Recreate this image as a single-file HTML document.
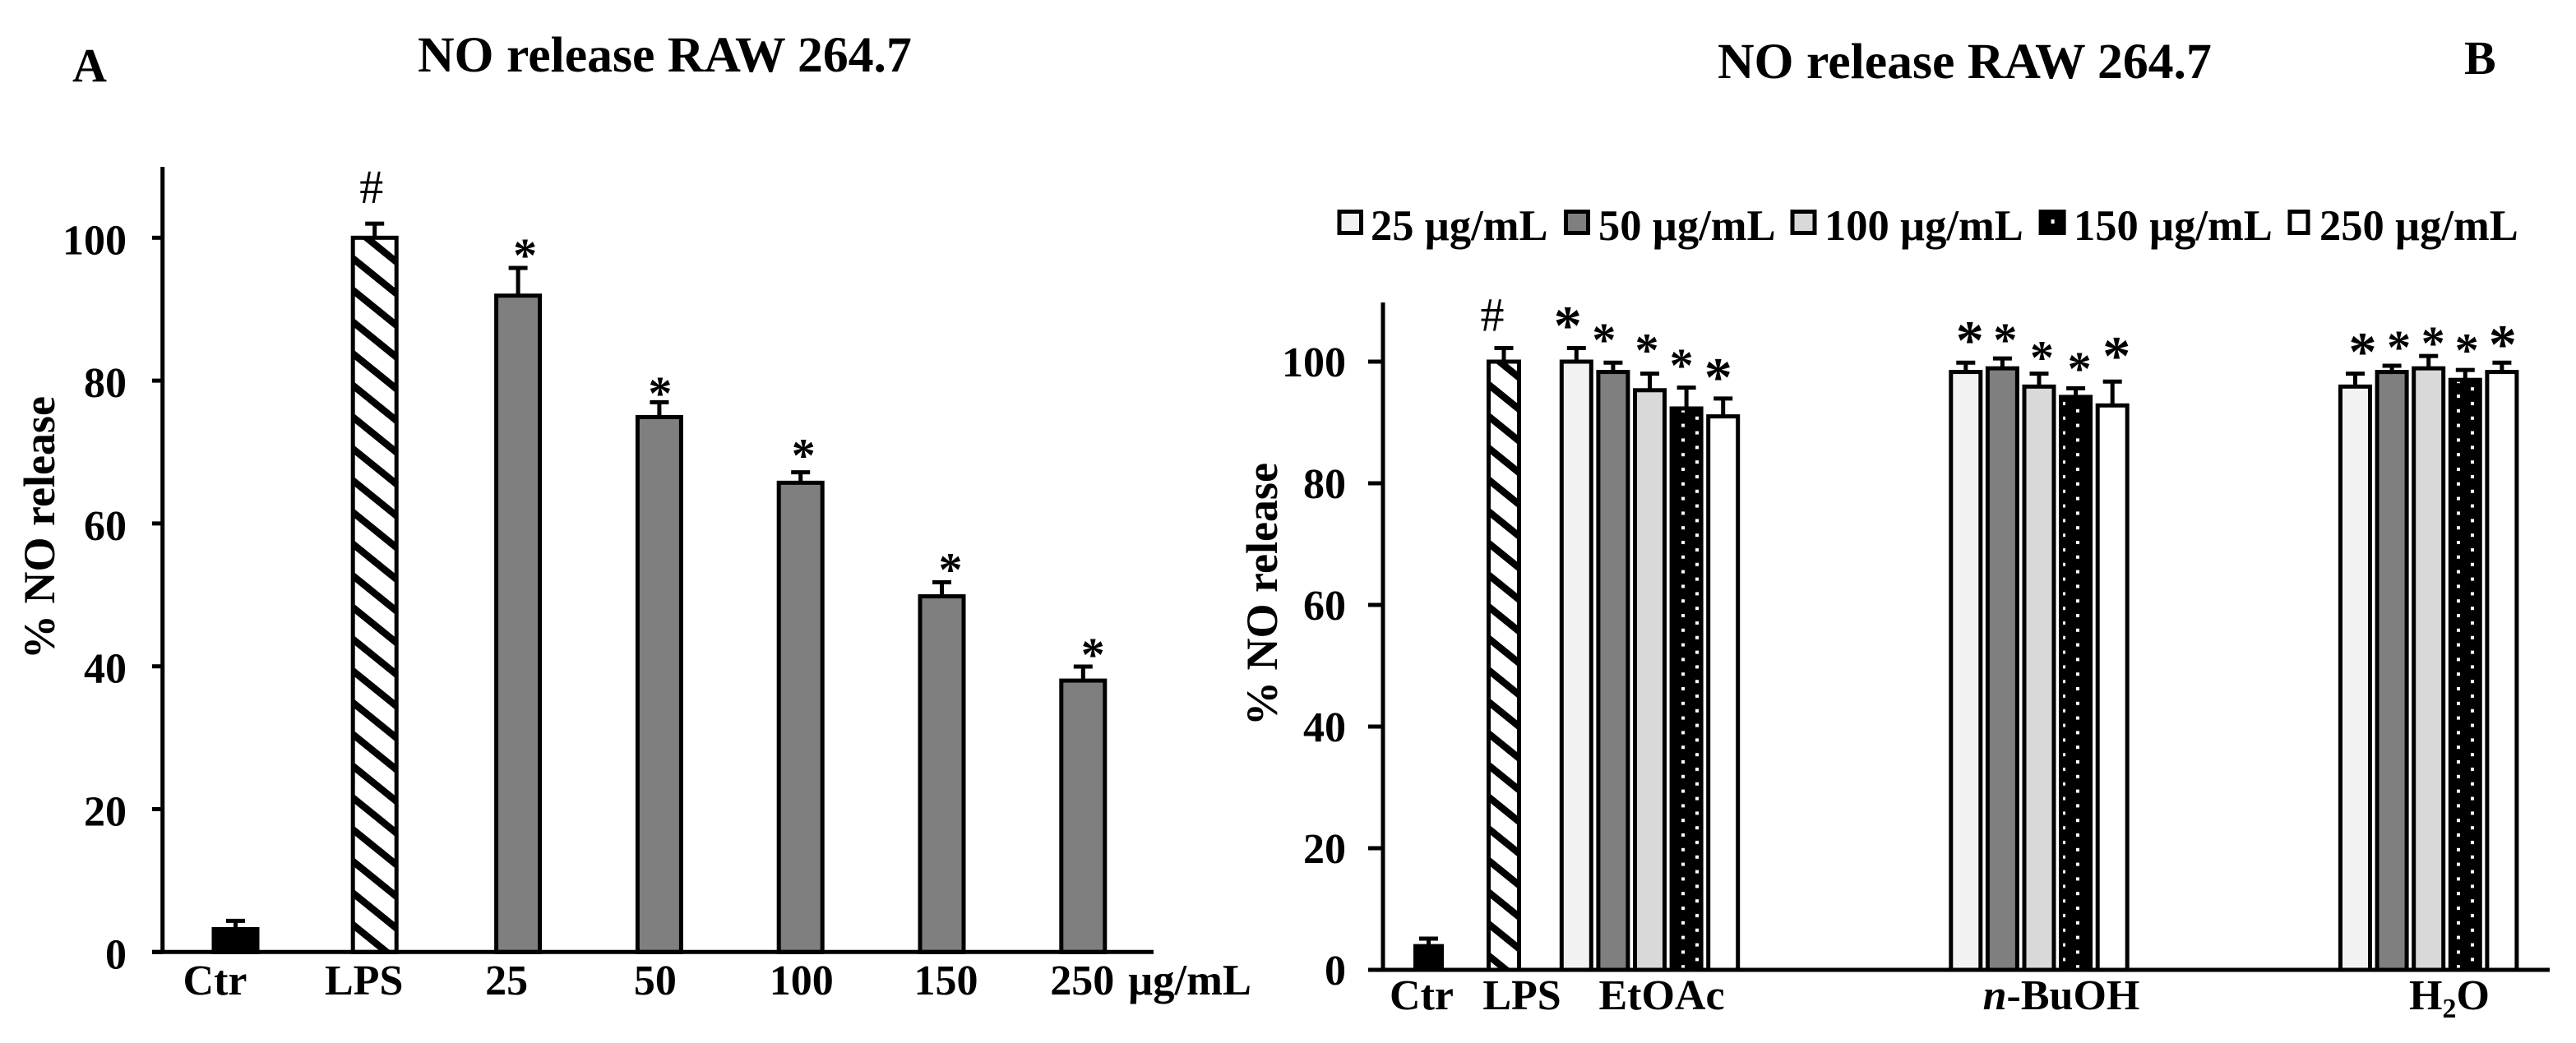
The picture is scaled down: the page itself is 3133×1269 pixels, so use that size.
<!DOCTYPE html>
<html lang="en">
<head>
<meta charset="utf-8">
<title>NO release RAW 264.7</title>
<style>
html,body{margin:0;padding:0;background:#fff;}
svg{display:block;}
text{font-family:"Liberation Serif","Times New Roman",serif;font-weight:bold;fill:#000;}
</style>
</head>
<body>
<svg id="figure" xmlns="http://www.w3.org/2000/svg" width="3133" height="1269" viewBox="0 0 3133 1269">
  <defs>
    <pattern id="hatch" patternUnits="userSpaceOnUse" width="30" height="30" patternTransform="rotate(39)">
      <rect width="30" height="30" fill="#fff"/>
      <rect width="30" height="8.5" fill="#000"/>
    </pattern>
    <pattern id="dots-0" patternUnits="userSpaceOnUse" x="2045" y="1103" width="34" height="17.8">
      <rect width="34" height="17.8" fill="#000"/>
      <rect x="0" y="0" width="4" height="4" fill="#fff"/>
      <rect x="17" y="9" width="4" height="4" fill="#fff"/>
    </pattern>
    <pattern id="dots-1" patternUnits="userSpaceOnUse" x="2525" y="1103" width="34" height="17.8">
      <rect width="34" height="17.8" fill="#000"/>
      <rect x="0" y="0" width="4" height="4" fill="#fff"/>
      <rect x="17" y="9" width="4" height="4" fill="#fff"/>
    </pattern>
    <pattern id="dots-2" patternUnits="userSpaceOnUse" x="2988" y="1103" width="34" height="17.8">
      <rect width="34" height="17.8" fill="#000"/>
      <rect x="0" y="0" width="4" height="4" fill="#fff"/>
      <rect x="17" y="9" width="4" height="4" fill="#fff"/>
    </pattern>
  </defs>

  <text x="88" y="99" font-size="58">A</text>
  <text x="508" y="87" font-size="61.7">NO release RAW 264.7</text>
  <text transform="translate(66,802) rotate(-90)" font-size="54">% NO release</text>
  <text x="1372" y="1210" font-size="52.5">µg/mL</text>

  <text x="2997" y="90" font-size="58">B</text>
  <text x="2089" y="95" font-size="61.7">NO release RAW 264.7</text>
  <text transform="translate(1553,883) rotate(-90)" font-size="54">% NO release</text>

  <g id="plot-a"></g>
  <g id="plot-b"></g>
  <g id="legend-b"></g>
</svg>

<script>
// ---------- Panel A data ----------
const catsA = ['Ctr', 'LPS', '25', '50', '100', '150', '250'];
const valuesA = [3.2, 100, 91.9, 74.9, 65.7, 49.8, 38];
const errTopA = [4.6, 102.2, 96, 77.2, 67.4, 52, 40.2];
const starLevelA = [null, null, 98.5, 79.2, 70.5, 54.5, 42.6];
const ticksA = [0, 20, 40, 60, 80, 100];

// ---------- Panel B data ----------
const controlsB = ['Ctr', 'LPS'];
const controlValuesB = [3.9, 100];
const controlErrTopB = [5.4, 102.5];
const groupsB = ['EtOAc', 'n-BuOH', 'H2O'];
const seriesB = ['25 µg/mL', '50 µg/mL', '100 µg/mL', '150 µg/mL', '250 µg/mL'];
const etoacValues = [100, 98.3, 95.3, 92.3, 91];
const etoacErrTop = [102.5, 100.1, 98.3, 96, 94.2];
const etoacStars = [107.3, 104.7, 103, 100.5, 98.8];
const butanolValues = [98.3, 98.9, 95.9, 94.2, 92.8];
const butanolErrTop = [100.1, 100.8, 98.3, 95.9, 97];
const butanolStars = [104.9, 104.7, 101.8, 100, 102.3];
const waterValues = [95.9, 98.3, 98.9, 97, 98.3];
const waterErrTop = [98.3, 99.6, 101.2, 98.9, 100.1];
const waterStars = [103, 103.5, 104.2, 103, 104.2];
const ticksB = [0, 20, 40, 60, 80, 100];

// ---------- Scales ----------
function yA(v) { return 1158.3 - v * 8.69; }
function yB(v) { return 1180 - v * 7.4; }
function xA(i) { return 286.5 + 171.8 * i + (i === 1 ? -2.6 : 0); }
function labelXA(i) { return xA(i) + [-25, -13, -14, -5, 1, 5, -1][i]; }
function starDxA(i) { return [0, 0, 8.5, 1, 3.5, 10.5, 12][i]; }
function xControlB(i) { return 1737.5 + 91.5 * i; }
function labelControlXB(i) { return [1729, 1851][i]; }
function groupCenterB(g) { return [2006.5, 2480, 2953.7][g]; }
function xGroupB(g, s) { return groupCenterB(g) + (s - 2) * 44.6; }
function starDxB(g, s) {
  return [[-10.5, -11, -3.5, -6, -6], [5, 3.5, 3.5, 4.5, 5], [9, 8.5, 5.5, 2, 1]][g][s];
}

// ---------- Helpers ----------
const NS = 'http://www.w3.org/2000/svg';
function make(parent, tag, attrs, txt) {
  const e = document.createElementNS(NS, tag);
  for (const k in attrs) e.setAttribute(k, attrs[k]);
  if (txt !== undefined) e.textContent = txt;
  parent.appendChild(e);
  return e;
}
function fillForB(s, g) {
  return ['#f2f2f2', '#7f7f7f', '#d9d9d9', 'url(#dots-' + g + ')', '#ffffff'][s];
}

function drawBar(parent, cx, outerW, top, base, fill, errY, capW, name) {
  const sw = 5;
  const bar = make(parent, 'rect', {
    x: cx - outerW / 2 + sw / 2, y: top, width: outerW - sw, height: base - top,
    fill: fill, stroke: '#000', 'stroke-width': sw
  });
  
  
  const stem = make(parent, 'line', {
    x1: cx, x2: cx, y1: top, y2: errY, stroke: '#000', 'stroke-width': 5
  });
  
  
  const cap = make(parent, 'line', {
    x1: cx - capW / 2, x2: cx + capW / 2, y1: errY + 2, y2: errY + 2, stroke: '#000', 'stroke-width': 5
  });
  
  
}

function drawStar(parent, cx, cy, size, name) {
  const st = make(parent, 'text', {
    x: cx, y: cy + size * 0.48, 'font-size': size, 'text-anchor': 'middle'
  }, '*');
  
  
}

function drawAxes(parent, cfg) {
  const vAxis = make(parent, 'line', {
    x1: cfg.x, x2: cfg.x, y1: cfg.top, y2: cfg.base + 2, stroke: '#000', 'stroke-width': 5
  });
  
  
  const hAxis = make(parent, 'line', {
    x1: cfg.tickStart, x2: cfg.end, y1: cfg.base, y2: cfg.base, stroke: '#000', 'stroke-width': 5
  });
  
  
  cfg.ticks.forEach(function (t) {
    const ty = cfg.scale(t);
    const tick = make(parent, 'line', {
      x1: cfg.tickStart, x2: cfg.x, y1: ty, y2: ty, stroke: '#000', 'stroke-width': 5
    });
    
    
    const lab = make(parent, 'text', {
      x: cfg.labelRight, y: ty + cfg.labelDy, 'font-size': 52, 'text-anchor': 'end'
    }, String(t));
    
    
  });
}

// ---------- Panel A ----------
const plotA = document.getElementById('plot-a');
catsA.forEach(function (c, i) {
  const fill = i === 0 ? '#000' : (i === 1 ? 'url(#hatch)' : '#7f7f7f');
  drawBar(plotA, xA(i), 58, yA(valuesA[i]), yA(0), fill, yA(errTopA[i]), 23, 'a-' + c);
  if (starLevelA[i] !== null) {
    drawStar(plotA, xA(i) + starDxA(i), yA(starLevelA[i]), 58, 'a-' + c);
  }
  const xl = make(plotA, 'text', {
    x: labelXA(i), y: 1210, 'font-size': 52, 'text-anchor': 'middle'
  }, c);
  
  
});
const hashA = make(plotA, 'text', {
  x: xA(1) - 4, y: yA(errTopA[1]) - 23, 'font-size': 58, 'text-anchor': 'middle', style: 'font-weight:normal'
}, '#');


drawAxes(plotA, {
  prefix: 'a', x: 197.7, top: 203, base: yA(0), end: 1403, tickStart: 185,
  ticks: ticksA, scale: yA, labelRight: 154, labelDy: 20
});

// ---------- Panel B ----------
const plotB = document.getElementById('plot-b');
controlsB.forEach(function (c, i) {
  const fill = i === 0 ? '#000' : 'url(#hatch)';
  drawBar(plotB, xControlB(i), i === 0 ? 37 : 42, yB(controlValuesB[i]), yB(0), fill, yB(controlErrTopB[i]), 23, 'b-' + c);
  const xl = make(plotB, 'text', {
    x: labelControlXB(i), y: 1228, 'font-size': 52, 'text-anchor': 'middle'
  }, c);
  
  
});
const hashB = make(plotB, 'text', {
  x: xControlB(1) - 14, y: yB(controlErrTopB[1]) - 19, 'font-size': 58, 'text-anchor': 'middle', style: 'font-weight:normal'
}, '#');



[[etoacValues, etoacErrTop, etoacStars], [butanolValues, butanolErrTop, butanolStars], [waterValues, waterErrTop, waterStars]]
  .forEach(function (grp, g) {
    grp[0].forEach(function (v, s) {
      const nm = 'b-' + groupsB[g] + '-' + (s + 1);
      drawBar(plotB, xGroupB(g, s), 41, yB(v), yB(0), fillForB(s, g), yB(grp[1][s]), 23, nm);
      drawStar(plotB, xGroupB(g, s) + starDxB(g, s), yB(grp[2][s]), (s === 0 || s === 4) ? 68 : 58, nm);
    });
  });

drawAxes(plotB, {
  prefix: 'b', x: 1682, top: 368, base: yB(0), end: 3101, tickStart: 1664,
  ticks: ticksB, scale: yB, labelRight: 1637, labelDy: 18
});

// group labels on panel B
const labEt = make(plotB, 'text', { x: 2021, y: 1228, 'font-size': 52, 'text-anchor': 'middle' }, groupsB[0]);



const labBu = make(plotB, 'text', { x: 2507, y: 1228, 'font-size': 52, 'text-anchor': 'middle' });


make(labBu, 'tspan', { 'font-style': 'italic' }, 'n');
make(labBu, 'tspan', {}, '-BuOH');

const labW = make(plotB, 'text', { x: 2979, y: 1228, 'font-size': 52, 'text-anchor': 'middle' });


make(labW, 'tspan', {}, 'H');
make(labW, 'tspan', { 'font-size': 34, dy: 10 }, '2');
make(labW, 'tspan', { dy: -10 }, 'O');

// ---------- Legend ----------
const legend = document.getElementById('legend-b');
function legendSwatchX(s) { return [1626.5, 1902, 2177.5, 2479.6, 2782.5][s]; }
function legendSwatchW(s) { return [31.5, 32, 32, 33, 27][s]; }
function legendTextX(s) { return [1667, 1944, 2219, 2522, 2821][s]; }
seriesB.forEach(function (label, s) {
  const sw = make(legend, 'rect', {
    x: legendSwatchX(s) + 2.5, y: 257.5, width: legendSwatchW(s) - 5, height: 26,
    fill: s === 3 ? '#000' : fillForB(s, 0), stroke: '#000', 'stroke-width': 5
  });
  
  
  if (s === 3) {
    const dot = make(legend, 'rect', { x: legendSwatchX(s) + 15, y: 267, width: 4, height: 5, fill: '#fff' });
    
    
  }
  const lt = make(legend, 'text', { x: legendTextX(s), y: 292, 'font-size': 52.5 }, label);
  
  
});
</script>
</body>
</html>
